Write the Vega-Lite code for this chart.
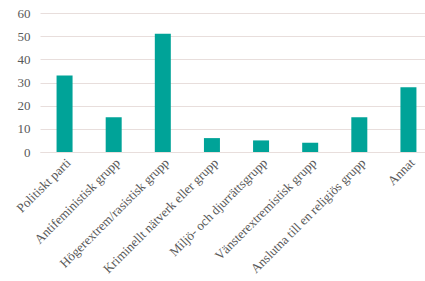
{
  "$schema": "https://vega.github.io/schema/vega-lite/v6.json",
  "autosize": "none",
  "padding": {"left": 40, "top": 13, "right": 0, "bottom": 129},
  "width": 393,
  "height": 139,
  "background": "#ffffff",
  "data": {"values": [
    {"kategori": "Politiskt parti", "antal": 33},
    {"kategori": "Antifeministisk grupp", "antal": 15},
    {"kategori": "Högerextrem/rasistisk grupp", "antal": 51},
    {"kategori": "Kriminellt nätverk eller grupp", "antal": 6},
    {"kategori": "Miljö- och djurrättsgrupp", "antal": 5},
    {"kategori": "Vänsterextremistisk grupp", "antal": 4},
    {"kategori": "Anslutna till en religiös grupp", "antal": 15},
    {"kategori": "Annat", "antal": 28}
  ]},
  "mark": {"type": "bar", "color": "#00A398", "width": 16},
  "encoding": {
    "x": {"field": "kategori", "type": "nominal", "sort": null, "title": null,
      "axis": {"labelAngle": -45, "labelAlign": "right", "labelBaseline": "top", "labelFont": "Liberation Serif", "labelFontSize": 13, "labelColor": "#595959", "ticks": false, "domain": true, "domainColor": "#E8DEDC", "labelPadding": 4, "labelLimit": 300}},
    "y": {"field": "antal", "type": "quantitative", "title": null, "scale": {"domain": [0, 60]},
      "axis": {"values": [0, 10, 20, 30, 40, 50, 60], "labelFont": "Liberation Serif", "labelFontSize": 13, "labelColor": "#595959", "ticks": false, "domain": false, "gridColor": "#E8DEDC", "gridWidth": 1, "labelPadding": 10}}
  },
  "config": {"view": {"stroke": null}}
}
